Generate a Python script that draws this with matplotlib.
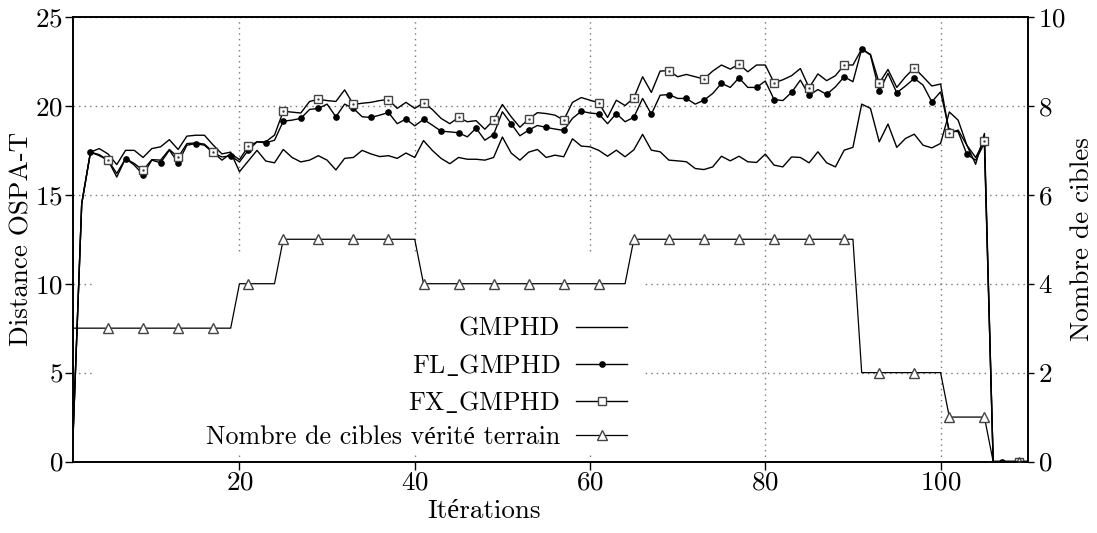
import matplotlib
matplotlib.use("Agg")
import matplotlib.pyplot as plt
from matplotlib.patches import Rectangle
import numpy as np

plt.rcParams['font.family'] = ['cmr10', 'Liberation Serif']
plt.rcParams['mathtext.fontset'] = 'cm'
plt.rcParams['axes.formatter.use_mathtext'] = True
plt.rcParams['font.size'] = 19.5

# Données
iterations = np.arange(1, 111)

gmphd = [1.3, 14.5, 17.4, 17.6, 17.3, 16.7, 17.5, 17.5, 17.1, 17.6,
         17.7, 18.1, 17.55, 18.3, 18.35, 18.35, 17.8, 17.3, 17.4, 16.3,
         16.9, 17.5, 16.9, 16.8, 17.55, 17.1, 16.85, 16.95, 17.2, 16.95,
         16.4, 17.05, 17.1, 17.5, 17.3, 17.15, 17.2, 17.05, 17.35, 17.1,
         18.05, 17.5, 17.05, 16.75, 17.1, 17.0, 17.0, 16.95, 17.1, 18.25,
         17.35, 16.95, 17.4, 17.55, 17.1, 17.23, 17.14, 18.15, 17.74, 17.7,
         17.5, 17.17, 17.51, 17.14, 17.53, 18.4, 17.51, 17.42, 16.95, 16.91,
         16.86, 16.48, 16.42, 16.57, 17.17, 16.91, 17.17, 16.86, 16.82, 17.29,
         16.67, 16.57, 17.13, 17.1, 16.8, 17.42, 16.8, 16.57, 17.51, 17.67,
         20.1, 19.86, 17.98, 18.98, 17.67, 18.17, 18.41, 17.79, 17.64, 17.89,
         19.66, 19.2, 17.79, 16.72, 18.45, 0, 0, 0, 0, 0]

fl_gmphd = [1.3, 14.5, 17.4, 17.2, 16.95, 16.0, 17.04, 16.67, 16.13, 16.95,
            16.8, 17.51, 16.81, 17.79, 17.88, 17.79, 17.36, 17.13, 17.19, 16.85,
            17.5, 17.98, 17.92, 18.07, 19.14, 19.2, 19.3, 19.8, 19.86, 20.1,
            19.39, 20.1, 19.86, 19.39, 19.35, 19.48, 19.63, 19.0, 19.26, 18.88,
            19.24, 18.92, 18.58, 18.54, 18.49, 18.26, 18.75, 18.07, 18.39, 19.67,
            19.0, 18.32, 18.64, 18.9, 18.79, 18.7, 18.62, 19.3, 19.7, 19.6,
            19.55, 19.0, 19.57, 19.11, 19.36, 20.42, 19.53, 20.6, 20.64, 20.42,
            20.42, 20.1, 20.32, 20.7, 21.27, 21.04, 21.58, 21.04, 21.04, 21.4,
            20.36, 20.3, 20.76, 21.45, 20.59, 20.92, 20.65, 21.07, 21.64, 21.36,
            23.2, 22.86, 20.83, 21.83, 20.74, 21.12, 21.55, 21.17, 20.23, 20.79,
            18.6, 18.55, 17.28, 16.95, 17.9, 0, 0, 0, 0, 0]

fx_gmphd = [1.3, 14.5, 17.4, 17.26, 16.95, 16.2, 17.04, 16.76, 16.38, 16.98,
            16.95, 17.55, 17.11, 17.88, 17.92, 17.85, 17.4, 16.95, 17.32, 16.98,
            17.72, 17.98, 17.98, 18.36, 19.7, 19.65, 19.6, 20.25, 20.37, 20.3,
            20.25, 20.9, 20.08, 20.15, 20.2, 20.3, 20.36, 19.86, 20.2, 19.86,
            20.17, 19.8, 19.3, 19.0, 19.35, 19.11, 19.17, 18.69, 19.2, 20.08,
            19.39, 18.8, 19.26, 19.62, 19.57, 19.48, 19.2, 20.2, 20.47, 20.32,
            20.18, 19.35, 20.32, 20.02, 20.45, 21.64, 20.76, 21.96, 21.98, 21.64,
            21.77, 21.64, 21.51, 21.96, 22.3, 22.07, 22.35, 21.92, 22.3, 22.3,
            21.3, 21.47, 21.7, 22.1, 21.02, 21.8, 21.42, 21.7, 22.3, 22.3,
            23.2, 22.9, 21.28, 22.05, 21.04, 21.64, 22.14, 21.64, 21.12, 21.23,
            18.45, 18.64, 17.79, 17.1, 18.04, 0, 0, 0, 0, 0]

nb_cibles = [3, 3, 3, 3, 3, 3, 3, 3, 3, 3, 3, 3, 3, 3, 3, 3, 3, 3, 3, 4,
             4, 4, 4, 4, 5, 5, 5, 5, 5, 5, 5, 5, 5, 5, 5, 5, 5, 5, 5, 5,
             4, 4, 4, 4, 4, 4, 4, 4, 4, 4, 4, 4, 4, 4, 4, 4, 4, 4, 4, 4,
             4, 4, 4, 4, 5, 5, 5, 5, 5, 5, 5, 5, 5, 5, 5, 5, 5, 5, 5, 5,
             5, 5, 5, 5, 5, 5, 5, 5, 5, 5, 2, 2, 2, 2, 2, 2, 2, 2, 2, 2,
             1, 1, 1, 1, 1, 0, 0, 0, 0, 0]

labels = ['GMPHD', r'FL$\_$GMPHD', r'FX$\_$GMPHD', 'Nombre de cibles vérité terrain']

fig = plt.figure(figsize=(10.97, 5.33), dpi=100)
ax = fig.add_axes([0.0665, 0.1341, 0.8708, 0.8340])
ax2 = ax.twinx()

# grille pointillée, masquée derrière la légende
ax.set_axisbelow(True)
ax.grid(True, color='#777777', linestyle=(0, (1, 3)), linewidth=1.0)
ax.add_patch(Rectangle((0.023, 0.021), 0.576, 0.445, transform=ax.transAxes,
                       facecolor='white', edgecolor='none', zorder=1))

l1, = ax.plot(iterations, gmphd, color='black', lw=1.0, zorder=3)
l2, = ax.plot(iterations, fl_gmphd, color='black', lw=1.0, marker='o',
              markersize=3.8, markevery=slice(2, None, 2), zorder=3)
l3, = ax.plot(iterations, fx_gmphd, color='black', lw=1.0, marker='s',
              markersize=5.2, markerfacecolor='white', markeredgecolor='#444444',
              markeredgewidth=1.0, markevery=slice(4, None, 4), zorder=3)
ax.plot(iterations, fx_gmphd, linestyle='none', marker='.', markersize=1.5,
        color='#444444', markevery=slice(4, None, 4), zorder=3)
l4, = ax2.plot(iterations, nb_cibles, color='black', lw=0.9, marker='^',
               markersize=6.5, markerfacecolor='white', markeredgecolor='#444444',
               markeredgewidth=1.0, markevery=slice(4, None, 4))

ax.set_xlim(1, 110)
ax.set_ylim(0, 25)
ax2.set_ylim(0, 10)
ax.set_xticks([20, 40, 60, 80, 100])
ax.set_yticks([0, 5, 10, 15, 20, 25])
ax2.set_yticks([0, 2, 4, 6, 8, 10])

for a in (ax, ax2):
    for s in a.spines.values():
        s.set_linewidth(1.2)
ax.tick_params(direction='out', length=6, width=1.0, pad=1)
ax2.tick_params(direction='out', length=4, width=1.0, pad=3)

ax.set_xlabel('Itérations')
ax.xaxis.set_label_coords(0.43, -0.085)
ax.set_ylabel('Distance OSPA-T', labelpad=1)
ax2.set_ylabel('Nombre de cibles', labelpad=3)

ax2.legend([l1, l2, l3, l4], labels,
           loc='upper right', bbox_to_anchor=(0.572, 0.405),
           bbox_transform=fig.transFigure, frameon=False, markerfirst=False,
           handlelength=2.0, handletextpad=0.6, labelspacing=0.42,
           borderpad=0, borderaxespad=0, fontsize=18.7)

fig.savefig('out.png', dpi=100)
